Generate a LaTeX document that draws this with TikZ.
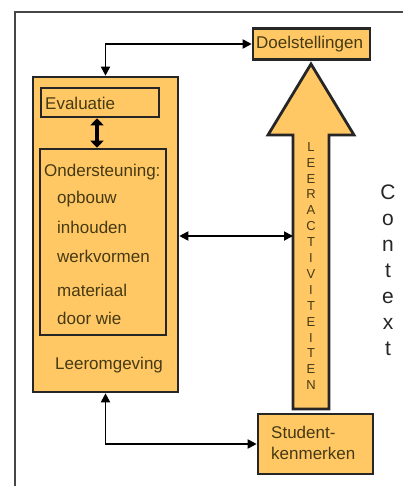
\documentclass[tikz,border=0pt]{standalone}
\usepackage{fontspec}
\setmainfont{Liberation Sans}
\usetikzlibrary{arrows.meta}
\definecolor{boxfill}{RGB}{255,200,100}
\definecolor{boxtext}{RGB}{70,58,20}
\definecolor{framegray}{RGB}{70,70,70}
\tikzset{
  box/.style={draw=black!85, line width=2.6pt, fill=boxfill, rectangle, inner sep=0pt},
  lbl/.style={text=boxtext, font=\fontsize{17}{19}\selectfont, inner sep=0pt, anchor=west},
  dbl/.style={line width=1.8pt, {Triangle[length=9pt,width=9pt]}-{Triangle[length=9pt,width=9pt]}},
}
\begin{document}
\begin{tikzpicture}[x=1pt,y=-1pt]
\useasboundingbox (0,0) rectangle (403,486);
% outer frame
\draw[framegray, line width=2.4pt] (403,12) -- (15,12) -- (15,486);
% boxes
\node[box, minimum width=117pt, minimum height=31pt] (doel) at (311.5,44) {};
\node[lbl] (doelt) at (256,44) {Doelstellingen};
\node[box, minimum width=145pt, minimum height=315pt] (leer) at (105.5,234.5) {};
\node[box, minimum width=118pt, minimum height=29pt] (eval) at (100,102.5) {};
\node[lbl] (evalt) at (45,103) {Evaluatie};
\node[box, minimum width=126pt, minimum height=186pt] (ond) at (103,242) {};
\node[lbl] (o1) at (44,172) {Ondersteuning:};
\node[lbl] (o2) at (57,199) {opbouw};
\node[lbl] (o3) at (57,227) {inhouden};
\node[lbl] (o4) at (57,256) {werkvormen};
\node[lbl] (o5) at (57,290) {materiaal};
\node[lbl] (o6) at (57,318) {door wie};
\node[lbl] (leert) at (55,365) {Leeromgeving};
\node[box, minimum width=115pt, minimum height=60pt] (stud) at (315.5,444) {};
\node[lbl, align=left, font=\fontsize{17}{21}\selectfont] (studt) at (271,443) {Student-\\kenmerken};
% big arrow
\draw[black!85, line width=2.8pt, fill=boxfill, line join=miter]
  (293,409) -- (293,135) -- (268,135) -- (311,64) -- (354,135) -- (329,135) -- (329,409) -- cycle;
\coordinate (shaftW) at (293,236);
\node[text=boxtext, font=\fontsize{13}{15.9}\selectfont, align=center, inner sep=0pt] (acts) at (311,266)
  {L\\E\\E\\R\\A\\C\\T\\I\\V\\I\\T\\E\\I\\T\\E\\N};
% context
\node[text=black!85, font=\fontsize{21}{26}\selectfont, align=center, inner sep=0pt] (ctx) at (388,270)
  {C\\o\\n\\t\\e\\x\\t};
% connectors
\draw[dbl] (doel.west) -| (leer.north);
\draw[dbl] (leer.east |- shaftW) -- (shaftW);
\draw[dbl] (leer.south) |- (stud.west);
\draw[line width=3.5pt, {Triangle[length=7pt,width=13pt]}-{Triangle[length=7pt,width=13pt]}]
  ([xshift=-3pt]eval.south) -- ([xshift=-3pt]eval.south |- ond.north);
\end{tikzpicture}
\end{document}
